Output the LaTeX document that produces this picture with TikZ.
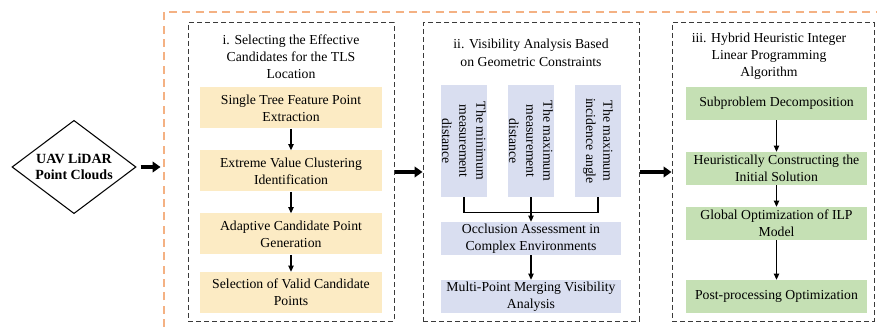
\documentclass[tikz,border=0pt]{standalone}
\usepackage{fontspec}
\setmainfont{Liberation Serif}
\usetikzlibrary{arrows.meta,shapes.geometric}
\definecolor{ylw}{HTML}{FCEBC4}
\definecolor{blu}{HTML}{D9DEF0}
\definecolor{grn}{HTML}{C5E0B4}
\definecolor{orng}{HTML}{F4B183}
\definecolor{dgray}{HTML}{3A3A3A}

\begin{document}
\begin{tikzpicture}[x=.75pt,y=.75pt,
	every node/.style={font=\fontsize{10.3}{12.8}\selectfont, align=center, inner sep=0pt},
	frame/.style={draw=dgray, line width=.75pt, dash pattern=on 3.5pt off 2.5pt, minimum width=#1, minimum height=223.5pt},
	ybox/.style={fill=ylw, minimum width=136.5pt, minimum height=30.75pt},
	gbox/.style={fill=grn, minimum width=135.75pt, minimum height=24.75pt},
	bbox/.style={fill=blu, minimum width=135pt, minimum height=24.75pt},
	vbox/.style={fill=blu, rotate=-90, minimum width=84pt, minimum height=34.5pt},
	arr/.style={line width=.8pt, -{Triangle[length=4.5pt,width=4pt]}},
	bigarr/.style={line width=3pt, -{Triangle[length=6pt,width=8pt]}}]
	\useasboundingbox (0,0) rectangle (877,-327);
	\draw[orng, line width=.9pt, dash pattern=on 6pt off 4pt] (164,-327) |- (877,-12);

	\node[draw, diamond, aspect=1.33, line width=.8pt, minimum width=93pt, minimum height=70pt, font=\fontsize{10.5}{12}\selectfont\bfseries] (dia) at (74,-167) {UAV LiDAR\\Point Clouds};

	\node[frame=154.5pt] (fi) at (291,-172) {};
	\node (ti) at (291,-57) {i. Selecting the Effective\\Candidates for the TLS\\Location};
	\node[ybox] (y1) at (291,-108) {Single Tree Feature Point\\Extraction};
	\node[ybox] (y2) at (291,-171) {Extreme Value Clustering\\Identification};
	\node[ybox] (y3) at (291,-234) {Adaptive Candidate Point\\Generation};
	\node[ybox] (y4) at (291,-292.5) {Selection of Valid Candidate\\Points};
	\draw[arr] (y1) -- (y2); \draw[arr] (y2) -- (y3); \draw[arr] (y3) -- (y4);

	\node[frame=162pt] (fii) at (531,-172) {};
	\node[font=\fontsize{10.3}{13.5}\selectfont] (tii) at (531,-52.5) {ii. Visibility Analysis Based\\on Geometric Constraints};
	\node[vbox] (b1) at (464,-141) {The minimum\\measurement\\distance};
	\node[vbox] (b2) at (531,-141) {The maximum\\measurement\\distance};
	\node[vbox] (b3) at (598,-141) {The maximum\\incidence angle};
	\node[bbox] (occ) at (531,-238.5) {Occlusion Assessment in\\Complex Environments};
	\node[bbox] (mpm) at (531,-296.5) {Multi-Point Merging Visibility\\Analysis};
	\draw[line width=.8pt] (b1.east) -- ++(0,-15) -| (b3.east);
	\draw[arr] (b2.east) -- (occ); \draw[arr] (occ) -- (mpm);

	\node[frame=151.5pt] (fiii) at (773,-172) {};
	\node (tiii) at (769,-56) {iii. Hybrid Heuristic Integer\\Linear Programming\\Algorithm};
	\node[gbox] (g1) at (776.5,-103.5) {Subproblem Decomposition};
	\node[gbox] (g2) at (776.5,-168.5) {Heuristically Constructing the\\Initial Solution};
	\node[gbox] (g3) at (776.5,-223.5) {Global Optimization of ILP\\Model};
	\node[gbox] (g4) at (776.5,-296.5) {Post-processing Optimization};
	\draw[arr] (g1) -- (g2); \draw[arr] (g2) -- (g3); \draw[arr] (g3) -- (g4);

	\draw[bigarr, shorten <=3pt] (dia.east) -- ++(24,0);
	\draw[bigarr] (fi.east) -- (fii.west);
	\draw[bigarr] (fii.east) -- (fiii.west);
\end{tikzpicture}
\end{document}
